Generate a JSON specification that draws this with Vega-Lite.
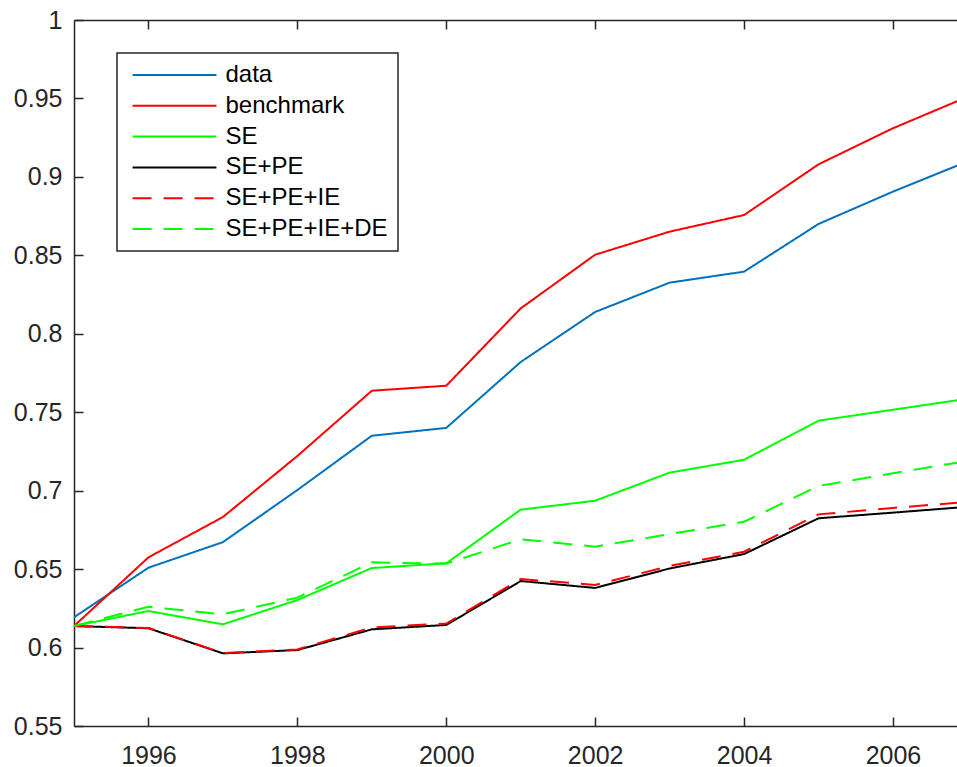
{
  "$schema": "https://vega.github.io/schema/vega-lite/v6.json",
  "width": 883,
  "height": 706,
  "autosize": {"type": "none"},
  "padding": {"left": 74, "top": 20, "right": 0, "bottom": 41},
  "background": "white",
  "config": {"view": {"stroke": null}, "font": "Liberation Sans"},
  "data": {"values": [
    {"series": "data", "year": 1995, "value": 0.6193},
    {"series": "data", "year": 1996, "value": 0.6509},
    {"series": "data", "year": 1997, "value": 0.6672},
    {"series": "data", "year": 1998, "value": 0.7004},
    {"series": "data", "year": 1999, "value": 0.735},
    {"series": "data", "year": 2000, "value": 0.740},
    {"series": "data", "year": 2001, "value": 0.782},
    {"series": "data", "year": 2002, "value": 0.8139},
    {"series": "data", "year": 2003, "value": 0.8326},
    {"series": "data", "year": 2004, "value": 0.8396},
    {"series": "data", "year": 2005, "value": 0.870},
    {"series": "data", "year": 2006, "value": 0.8906},
    {"series": "data", "year": 2007, "value": 0.9098},
    {"series": "benchmark", "year": 1995, "value": 0.6137},
    {"series": "benchmark", "year": 1996, "value": 0.6575},
    {"series": "benchmark", "year": 1997, "value": 0.6832},
    {"series": "benchmark", "year": 1998, "value": 0.7221},
    {"series": "benchmark", "year": 1999, "value": 0.7637},
    {"series": "benchmark", "year": 2000, "value": 0.7669},
    {"series": "benchmark", "year": 2001, "value": 0.8162},
    {"series": "benchmark", "year": 2002, "value": 0.8504},
    {"series": "benchmark", "year": 2003, "value": 0.8651},
    {"series": "benchmark", "year": 2004, "value": 0.8757},
    {"series": "benchmark", "year": 2005, "value": 0.908},
    {"series": "benchmark", "year": 2006, "value": 0.931},
    {"series": "benchmark", "year": 2007, "value": 0.951},
    {"series": "SE", "year": 1995, "value": 0.6137},
    {"series": "SE", "year": 1996, "value": 0.6233},
    {"series": "SE", "year": 1997, "value": 0.6148},
    {"series": "SE", "year": 1998, "value": 0.6303},
    {"series": "SE", "year": 1999, "value": 0.6507},
    {"series": "SE", "year": 2000, "value": 0.6537},
    {"series": "SE", "year": 2001, "value": 0.6879},
    {"series": "SE", "year": 2002, "value": 0.6936},
    {"series": "SE", "year": 2003, "value": 0.7115},
    {"series": "SE", "year": 2004, "value": 0.7197},
    {"series": "SE", "year": 2005, "value": 0.7446},
    {"series": "SE", "year": 2006, "value": 0.7516},
    {"series": "SE", "year": 2007, "value": 0.7586},
    {"series": "SE+PE", "year": 1995, "value": 0.6137},
    {"series": "SE+PE", "year": 1996, "value": 0.6123},
    {"series": "SE+PE", "year": 1997, "value": 0.5963},
    {"series": "SE+PE", "year": 1998, "value": 0.5984},
    {"series": "SE+PE", "year": 1999, "value": 0.6116},
    {"series": "SE+PE", "year": 2000, "value": 0.6144},
    {"series": "SE+PE", "year": 2001, "value": 0.6424},
    {"series": "SE+PE", "year": 2002, "value": 0.638},
    {"series": "SE+PE", "year": 2003, "value": 0.6504},
    {"series": "SE+PE", "year": 2004, "value": 0.6596},
    {"series": "SE+PE", "year": 2005, "value": 0.6824},
    {"series": "SE+PE", "year": 2006, "value": 0.686},
    {"series": "SE+PE", "year": 2007, "value": 0.6897},
    {"series": "SE+PE+IE", "year": 1995, "value": 0.6137},
    {"series": "SE+PE+IE", "year": 1996, "value": 0.6125},
    {"series": "SE+PE+IE", "year": 1997, "value": 0.5965},
    {"series": "SE+PE+IE", "year": 1998, "value": 0.5988},
    {"series": "SE+PE+IE", "year": 1999, "value": 0.6128},
    {"series": "SE+PE+IE", "year": 2000, "value": 0.6153},
    {"series": "SE+PE+IE", "year": 2001, "value": 0.6437},
    {"series": "SE+PE+IE", "year": 2002, "value": 0.6399},
    {"series": "SE+PE+IE", "year": 2003, "value": 0.652},
    {"series": "SE+PE+IE", "year": 2004, "value": 0.6611},
    {"series": "SE+PE+IE", "year": 2005, "value": 0.6849},
    {"series": "SE+PE+IE", "year": 2006, "value": 0.689},
    {"series": "SE+PE+IE", "year": 2007, "value": 0.6928},
    {"series": "SE+PE+IE+DE", "year": 1995, "value": 0.6137},
    {"series": "SE+PE+IE+DE", "year": 1996, "value": 0.626},
    {"series": "SE+PE+IE+DE", "year": 1997, "value": 0.6212},
    {"series": "SE+PE+IE+DE", "year": 1998, "value": 0.6318},
    {"series": "SE+PE+IE+DE", "year": 1999, "value": 0.6543},
    {"series": "SE+PE+IE+DE", "year": 2000, "value": 0.6535},
    {"series": "SE+PE+IE+DE", "year": 2001, "value": 0.669},
    {"series": "SE+PE+IE+DE", "year": 2002, "value": 0.6643},
    {"series": "SE+PE+IE+DE", "year": 2003, "value": 0.6723},
    {"series": "SE+PE+IE+DE", "year": 2004, "value": 0.6802},
    {"series": "SE+PE+IE+DE", "year": 2005, "value": 0.703},
    {"series": "SE+PE+IE+DE", "year": 2006, "value": 0.7111},
    {"series": "SE+PE+IE+DE", "year": 2007, "value": 0.7189}
  ]},
  "resolve": {"axis": {"x": "independent", "y": "independent"}},
  "layer": [
    {
      "mark": {"type": "line", "strokeWidth": 2, "clip": true},
      "encoding": {
        "x": {"field": "year", "type": "quantitative",
          "scale": {"domain": [1995, 2006.86], "nice": false, "zero": false},
          "axis": {"orient": "bottom", "title": null, "values": [1996, 1998, 2000, 2002, 2004, 2006], "format": "d",
            "grid": false, "ticks": false, "tickSize": 0, "domainColor": "#262626", "domainWidth": 1.5,
            "labelFontSize": 25, "labelColor": "#262626", "labelPadding": 17, "labelFlush": false, "labelOverlap": false}},
        "y": {"field": "value", "type": "quantitative",
          "scale": {"domain": [0.55, 1], "nice": false, "zero": false},
          "axis": {"orient": "left", "title": null, "values": [0.55, 0.6, 0.65, 0.7, 0.75, 0.8, 0.85, 0.9, 0.95, 1], "format": "~g",
            "grid": false, "ticks": false, "tickSize": 0, "domainColor": "#262626", "domainWidth": 1.5,
            "labelFontSize": 25, "labelColor": "#262626", "labelPadding": 12, "labelFlush": false, "labelOverlap": false}},
        "color": {"field": "series", "type": "nominal",
          "scale": {"domain": ["data", "benchmark", "SE", "SE+PE", "SE+PE+IE", "SE+PE+IE+DE"],
            "range": ["#0072BD", "#FF0000", "#00FF00", "#000000", "#FF0000", "#00FF00"]},
          "legend": {"orient": "none", "legendX": 43, "legendY": 33, "title": null,
            "symbolType": "M-9.4,0M-8,0H8", "symbolSize": 110, "symbolStrokeWidth": 2, "symbolOffset": 35.5,
            "rowPadding": 6.8, "labelFontSize": 24, "labelColor": "#000000", "labelOffset": 39, "labelLimit": 0,
            "padding": 10, "strokeColor": "#262626", "fillColor": "white", "cornerRadius": 0,
            "encode": {"legend": {"update": {"strokeWidth": {"value": 1.5}}}}}},
        "strokeDash": {"field": "series", "type": "nominal",
          "scale": {"domain": ["data", "benchmark", "SE", "SE+PE", "SE+PE+IE", "SE+PE+IE+DE"],
            "range": [[1, 0], [1, 0], [1, 0], [1, 0], [19, 12], [19, 12]]},
          "legend": {"orient": "none", "legendX": 43, "legendY": 33, "title": null,
            "symbolType": "M-9.4,0M-8,0H8", "symbolSize": 110, "symbolStrokeWidth": 2, "symbolOffset": 35.5,
            "rowPadding": 6.8, "labelFontSize": 24, "labelColor": "#000000", "labelOffset": 39, "labelLimit": 0,
            "padding": 10, "strokeColor": "#262626", "fillColor": "white", "cornerRadius": 0}}
      }
    },
    {
      "mark": {"type": "point", "opacity": 0},
      "encoding": {
        "x": {"field": "year", "type": "quantitative",
          "axis": {"orient": "top", "title": null, "labels": false, "ticks": false, "tickSize": 0,
            "grid": false, "domainColor": "#262626", "domainWidth": 1.5}}
      }
    },
    {
      "mark": {"type": "point", "opacity": 0},
      "encoding": {
        "x": {"field": "year", "type": "quantitative",
          "axis": {"orient": "top", "offset": -706, "title": null, "values": [1996, 1998, 2000, 2002, 2004, 2006], "labels": false,
            "domain": false, "grid": false, "tickSize": 9, "tickWidth": 1.5, "tickColor": "#262626"}}
      }
    },
    {
      "mark": {"type": "point", "opacity": 0},
      "encoding": {
        "x": {"field": "year", "type": "quantitative",
          "axis": {"orient": "bottom", "offset": -706, "title": null, "values": [1996, 1998, 2000, 2002, 2004, 2006], "labels": false,
            "domain": false, "grid": false, "tickSize": 9, "tickWidth": 1.5, "tickColor": "#262626"}}
      }
    },
    {
      "mark": {"type": "point", "opacity": 0},
      "encoding": {
        "y": {"field": "value", "type": "quantitative",
          "axis": {"orient": "right", "offset": -883, "title": null, "values": [0.55, 0.6, 0.65, 0.7, 0.75, 0.8, 0.85, 0.9, 0.95, 1], "labels": false,
            "domain": false, "grid": false, "tickSize": 9, "tickWidth": 1.5, "tickColor": "#262626"}}
      }
    }
  ]
}
